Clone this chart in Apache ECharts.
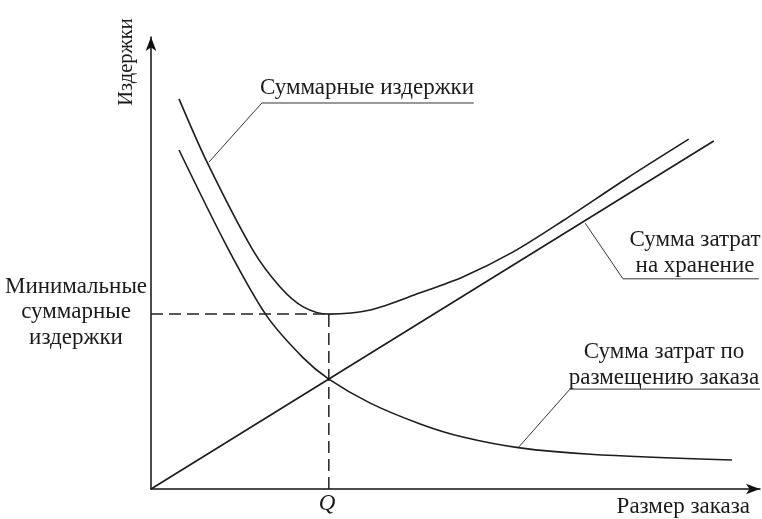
<!DOCTYPE html>
<html>
<head>
<meta charset="utf-8">
<script src="https://cdn.jsdelivr.net/npm/echarts@6/dist/echarts.min.js"></script>
<style>
  html, body { margin: 0; padding: 0; background: #fff; }
  #chart { width: 762px; height: 519px; }
</style>
</head>
<body>
<div id="chart"></div>
<script>
// Economic order quantity: cost components versus order size (arbitrary units)
const orderQ = 29.2;          // optimal order size Q
const minTotal = 38.7;        // minimum total cost

// Holding cost: grows linearly with order size
const holdingX = [0, 92.4];
const holdingY = [0, 77.0];

// Ordering cost: falls as order size grows
const orderingX = [4.6, 12.6, 19.0, 25.0, orderQ, 36.0, 44.2, 51.2, 60.6, 72.1, 95.4];
const orderingY = [75.0, 53.3, 38.3, 29.0, 24.3, 19.0, 14.4, 11.5, 9.1, 7.7, 6.4];

// Total cost
const totalX = [4.6, 9.2, 16.7, 21.2, 25.0, orderQ, 36.0, 44.2, 51.2, 59.4, 67.7, 78.1, 88.3];
const totalY = [86.3, 72.3, 52.9, 44.7, 40.3, minTotal, 39.6, 43.4, 46.9, 52.4, 59.4, 68.7, 77.4];

// Callout leader lines (data units)
const leaderTotal = [[9.5, 72.3], [18.2, 85.4], [53.0, 85.4]];
const leaderHolding = [[71.3, 58.8], [77.5, 46.5], [99.8, 46.5]];
const leaderOrdering = [[60.4, 9.3], [68.8, 22.1], [100, 22.1]];

const axisName = 'Издержки';
const xName = 'Размер заказа';
const qLabel = 'Q';
const totalLabel = 'Суммарные издержки';
const holdingLabel = ['Сумма затрат', 'на хранение'];
const orderingLabel = ['Сумма затрат по', 'размещению заказа'];
const minLabel = ['Минимальные', 'суммарные', 'издержки'];

const zip = (xs, ys) => xs.map((x, i) => [x, ys[i]]);
const FONT = '"Liberation Serif", "DejaVu Serif", serif';
const INK = '#1c1c1c';

const curve = (data, smooth) => ({
  type: 'line', data, smooth, symbol: 'none', silent: true,
  lineStyle: { color: INK, width: 1.6 }
});
const leader = data => ({
  type: 'line', data, symbol: 'none', silent: true,
  lineStyle: { color: '#333', width: 1 }
});
const dashed = data => ({
  type: 'line', data, symbol: 'none', silent: true,
  lineStyle: { color: '#222', width: 1.5, type: [12, 6] }
});

const chart = echarts.init(document.getElementById('chart'), null, { renderer: 'canvas' });

const textStyle = { fontFamily: FONT, fontSize: 23, fill: '#1a1a1a' };
const txt = (x, y, text, extra) => ({
  type: 'text', x, y,
  style: Object.assign({}, textStyle, { text, align: 'center', verticalAlign: 'middle' }, extra || {})
});

chart.setOption({
  animation: false,
  backgroundColor: '#fff',
  grid: { left: 151, right: 2, top: 37, bottom: 30 },
  xAxis: {
    type: 'value', min: 0, max: 100,
    axisLine: { show: true, symbol: ['none', 'arrow'], symbolSize: [8, 14], symbolOffset: [0, 0],
      lineStyle: { color: '#111', width: 1.5 } },
    axisTick: { show: false }, axisLabel: { show: false }, splitLine: { show: false }
  },
  yAxis: {
    type: 'value', min: 0, max: 100,
    axisLine: { show: true, symbol: ['none', 'arrow'], symbolSize: [8, 14], symbolOffset: [0, 0],
      lineStyle: { color: '#111', width: 1.5 } },
    axisTick: { show: false }, axisLabel: { show: false }, splitLine: { show: false }
  },
  series: [
    dashed([[0, minTotal], [orderQ, minTotal]]),
    dashed([[orderQ, 0], [orderQ, minTotal]]),
    curve(zip(holdingX, holdingY), false),
    curve(zip(orderingX, orderingY), 0.3),
    curve(zip(totalX, totalY), 0.3),
    leader(leaderTotal),
    leader(leaderHolding),
    leader(leaderOrdering)
  ],
  graphic: [
    Object.assign(txt(127, 62, axisName, { fontSize: 20.5 }), { rotation: Math.PI / 2 }),
    txt(750, 507, xName, { align: 'right' }),
    txt(327, 504, qLabel, { fontStyle: 'italic' }),
    txt(367, 88, totalLabel),
    txt(695, 253, holdingLabel.join('\n'), { lineHeight: 25.5 }),
    txt(664, 365, orderingLabel.join('\n'), { lineHeight: 25.5 }),
    txt(76, 312, minLabel.join('\n'), { lineHeight: 25.5 })
  ]
});
</script>
</body>
</html>
